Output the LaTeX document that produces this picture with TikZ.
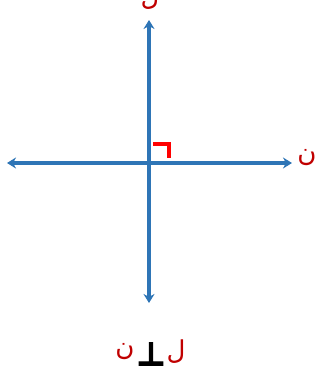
\documentclass[tikz,border=0pt]{standalone}
\usepackage{fontspec}
\newfontfamily\arabicfont[Script=Arabic]{DejaVu Sans}
\newfontfamily\symfont[FakeBold=3]{DejaVu Sans Bold}
\TeXXeTstate=1
\usetikzlibrary{arrows.meta}
\definecolor{axisblue}{RGB}{46,117,182}
\definecolor{labred}{RGB}{192,0,0}
\begin{document}
\begin{tikzpicture}[x=1pt,y=-1pt,
  axis/.style={draw=axisblue,line width=3.5pt,-{Stealth[length=9pt,width=11pt]}},
  lab/.style={text=labred,font=\arabicfont\fontsize{26}{28}\selectfont,inner sep=0pt}]
\useasboundingbox (0,0) rectangle (321,377);
\coordinate (c) at (149,163);
\coordinate (top) at (149,20);
\coordinate (bot) at (149,303);
\coordinate (lft) at (7,163);
\coordinate (rgt) at (292,163);
\draw[axis] (c) -- (top);
\draw[axis] (c) -- (bot);
\draw[axis] (c) -- (lft);
\draw[axis] (c) -- (rgt);
\draw[red,line width=3.5pt] (153,144) -- (169,144) -- (169,158);
\node[lab] (tl) at (150,-2) {\beginR ل\endR};
\node[lab] (rl) at (307,158) {\beginR ن\endR};
\node[lab] (bn) at (125,352) {\beginR ن\endR};
\node[inner sep=0pt,font=\symfont\fontsize{32}{34}\selectfont] (perp) at (151,354) {⊥};
\node[lab] (bl) at (176,352) {\beginR ل\endR};
\end{tikzpicture}
\end{document}
